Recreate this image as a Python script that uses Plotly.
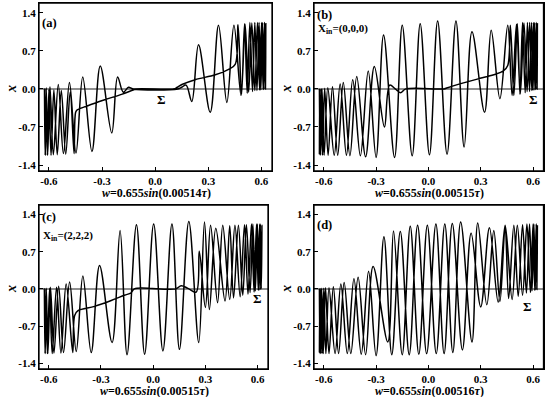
import plotly.graph_objects as go

# ---------------- data (w, x) ----------------
# Panel (a): w = 0.655 sin(0.00514 tau)
a_fwd_w = [-0.625, -0.621, -0.616, -0.609, -0.600, -0.588, -0.572, -0.553, -0.530, -0.505,
           -0.480, -0.458, -0.452, -0.445, -0.380, -0.285, -0.190, -0.124, -0.106, 0.104,
           0.125, 0.151, 0.226, 0.340, 0.415, 0.452, 0.468, 0.488, 0.505, 0.520,
           0.535, 0.550, 0.563, 0.575, 0.587, 0.597, 0.606, 0.613, 0.619, 0.623, 0.625]
a_fwd_x = [0.0, -1.22, 0.0, -1.22, -0.01, -1.22, -0.02, -1.21, -0.03, -1.20,
           -0.06, -1.19, -0.50, -0.40, -0.31, -0.20, -0.10, -0.02, 0.0, 0.0,
           0.03, 0.08, 0.17, 0.26, 0.36, 0.45, 1.18, -0.10, 1.20, -0.08,
           1.22, -0.05, 1.22, -0.03, 1.22, -0.02, 1.22, -0.01, 1.22, 0.0, 1.20]
a_bwd_w = [0.622, 0.617, 0.610, 0.601, 0.590, 0.578, 0.563, 0.546, 0.528, 0.508,
           0.485, 0.445, 0.405, 0.358, 0.311, 0.245, 0.207, 0.175, 0.150, 0.128,
           -0.125, -0.150, -0.180, -0.212, -0.245, -0.310, -0.357, -0.409, -0.447, -0.484,
           -0.518, -0.547, -0.575, -0.594, -0.607, -0.615, -0.620, -0.625]
a_bwd_x = [0.0, 1.22, -0.01, 1.22, -0.02, 1.22, -0.03, 1.21, -0.06, 1.19,
           -0.12, 1.17, -0.25, 1.17, -0.43, 0.81, -0.23, 0.07, 0.03, 0.0,
           0.0, 0.03, -0.06, 0.22, -0.81, 0.42, -1.15, 0.22, -1.18, 0.12,
           -1.19, 0.08, -1.21, 0.04, -1.21, 0.02, -1.22, 0.0]

# Panel (b): w = 0.655 sin(0.00515 tau), X_in = (0,0,0)
b_fwd_w = [-0.625, -0.621, -0.615, -0.607, -0.595, -0.575, -0.550, -0.520, -0.488, -0.450,
           -0.411, -0.360, -0.310, -0.252, -0.222, -0.190, -0.160, -0.130, 0.090, 0.108,
           0.147, 0.280, 0.375, 0.430, 0.455, 0.470, 0.490, 0.510, 0.525, 0.540,
           0.555, 0.568, 0.580, 0.592, 0.600, 0.608, 0.614, 0.619, 0.623, 0.625]
b_fwd_x = [0.0, -1.22, 0.0, -1.22, 0.01, -1.22, 0.04, -1.22, 0.12, -1.23,
           0.23, -1.25, 0.41, -0.70, 0.07, 0.0, -0.07, 0.0, 0.0, 0.02,
           0.06, 0.18, 0.26, 0.33, 0.43, 1.17, -0.12, 1.20, -0.10, 1.22,
           -0.07, 1.22, -0.05, 1.22, -0.03, 1.22, -0.01, 1.22, 0.0, 1.20]
b_bwd_w = [0.622, 0.618, 0.611, 0.603, 0.593, 0.581, 0.566, 0.548, 0.527, 0.505,
           0.480, 0.455, 0.410, 0.360, 0.322, 0.250, 0.205, 0.158, 0.107, 0.053,
           0.006, -0.047, -0.093, -0.150, -0.194, -0.257, -0.300, -0.345, -0.390, -0.434,
           -0.470, -0.506, -0.540, -0.577, -0.598, -0.610, -0.618, -0.623, -0.625]
b_bwd_x = [0.0, 1.22, -0.02, 1.22, -0.03, 1.22, -0.05, 1.21, -0.09, 1.19,
           -0.12, 1.17, -0.18, 1.08, -0.43, 1.05, -1.07, 1.25, -1.20, 1.25,
           -1.21, 1.20, -1.23, 1.17, -1.26, 0.99, -1.26, 0.33, -1.23, 0.17,
           -1.22, 0.09, -1.22, 0.02, -1.22, 0.0, -1.21, 0.0, -1.20]

# Panel (c): w = 0.655 sin(0.00515 tau), X_in = (2,2,2)
c_fwd_w = [-0.625, -0.621, -0.616, -0.608, -0.595, -0.580, -0.555, -0.530, -0.500, -0.462,
           -0.451, -0.432, -0.337, -0.241, -0.165, -0.127, -0.108, 0.130, 0.161, 0.200,
           0.247, 0.265, 0.300, 0.330, 0.370, 0.400, 0.440, 0.470, 0.500, 0.525,
           0.545, 0.565, 0.580, 0.594, 0.604, 0.612, 0.618, 0.625]
c_fwd_x = [0.0, -1.22, 0.0, -1.22, 0.01, -1.22, 0.03, -1.21, 0.09, -1.20,
           -0.50, -0.41, -0.33, -0.22, -0.12, -0.075, 0.0, 0.0, 0.06, 0.01,
           -0.06, 0.71, -0.35, 1.20, -0.26, 1.20, -0.20, 1.20, -0.15, 1.21,
           -0.10, 1.22, -0.06, 1.22, -0.03, 1.22, -0.01, 1.20]
c_bwd_w = [0.621, 0.616, 0.609, 0.599, 0.587, 0.573, 0.557, 0.536, 0.515, 0.490,
           0.462, 0.440, 0.413, 0.360, 0.323, 0.295, 0.262, 0.205, 0.151, 0.108,
           0.056, 0.003, -0.049, -0.096, -0.150, -0.190, -0.236, -0.308, -0.356, -0.404,
           -0.442, -0.480, -0.515, -0.543, -0.570, -0.590, -0.605, -0.614, -0.620, -0.625]
c_bwd_x = [0.0, 1.22, -0.02, 1.22, -0.04, 1.22, -0.07, 1.21, -0.12, 1.20,
           -0.17, 1.19, -0.23, 1.14, -0.39, 1.26, -1.01, 1.27, -1.14, 1.22,
           -1.17, 1.22, -1.23, 1.21, -1.24, 1.10, -1.01, 0.44, -1.20, 0.24,
           -1.18, 0.13, -1.20, 0.05, -1.21, 0.03, -1.22, 0.01, -1.22, 0.0]

# Panel (d): w = 0.655 sin(0.00516 tau)
d_fwd_w = [-0.625, -0.622, -0.617, -0.610, -0.600, -0.588, -0.570, -0.535, -0.502, -0.465,
           -0.427, -0.385, -0.343, -0.300, -0.255, -0.210, -0.161, -0.110, -0.062, -0.010,
           0.043, 0.090, 0.137, 0.195, 0.245, 0.300, 0.350, 0.400, 0.440, 0.480,
           0.510, 0.540, 0.565, 0.585, 0.600, 0.610, 0.618, 0.622, 0.625]
d_fwd_x = [0.0, -1.22, 0.0, -1.22, 0.01, -1.22, 0.02, -1.22, 0.09, -1.22,
           0.19, -1.23, 0.33, -1.26, 0.98, -1.24, 1.08, -1.24, 1.20, -1.22,
           1.22, -1.22, 1.23, -1.15, 1.05, -0.34, 1.15, -0.25, 1.20, -0.20,
           1.20, -0.12, 1.22, -0.07, 1.22, -0.03, 1.22, -0.01, 1.20]
d_bwd_w = [0.622, 0.619, 0.613, 0.605, 0.594, 0.580, 0.562, 0.540, 0.515, 0.490,
           0.460, 0.440, 0.410, 0.375, 0.335, 0.283, 0.250, 0.185, 0.140, 0.094,
           0.045, -0.006, -0.055, -0.104, -0.150, -0.200, -0.233, -0.317, -0.360, -0.403,
           -0.445, -0.483, -0.515, -0.545, -0.570, -0.590, -0.603, -0.612, -0.618, -0.622, -0.625]
d_bwd_x = [0.0, 1.22, -0.02, 1.22, -0.04, 1.22, -0.08, 1.21, -0.14, 1.20,
           -0.18, 1.18, -0.24, 1.10, -0.30, 1.24, -1.00, 1.26, -1.20, 1.22,
           -1.22, 1.20, -1.23, 1.18, -1.24, 1.09, -1.00, 0.42, -1.24, 0.22,
           -1.22, 0.12, -1.22, 0.04, -1.22, 0.02, -1.22, 0.01, -1.22, 0.0, -1.20]

panel_labels = ["(a)", "(b)", "(c)", "(d)"]
x_titles = ["<i>w</i>=0.655<i>sin</i>(0.00514<i>τ</i>)",
            "<i>w</i>=0.655<i>sin</i>(0.00515<i>τ</i>)",
            "<i>w</i>=0.655<i>sin</i>(0.00515<i>τ</i>)",
            "<i>w</i>=0.655<i>sin</i>(0.00516<i>τ</i>)"]
init_labels = [None, "X<sub>in</sub>=(0,0,0)", "X<sub>in</sub>=(2,2,2)", None]
sigma_pos = [(0.038, -0.20), (0.602, -0.20), (0.600, -0.18), (0.568, -0.34)]

x_tickvals = [-0.6, -0.3, 0.0, 0.3, 0.6]
x_ticktext = ["-0.6", "-0.3", "0.0", "0.3", "0.6"]
y_tickvals = [-1.4, -0.7, 0.0, 0.7, 1.4]
y_ticktext = ["-1.4", "-0.7", "0.0", "0.7", "1.4"]

# ---------------- figure ----------------
W, H = 550, 397
FONT = "Liberation Serif"
fig = go.Figure()

series = [(a_fwd_w + a_bwd_w, a_fwd_x + a_bwd_x),
          (b_fwd_w + b_bwd_w, b_fwd_x + b_bwd_x),
          (c_fwd_w + c_bwd_w, c_fwd_x + c_bwd_x),
          (d_fwd_w + d_bwd_w, d_fwd_x + d_bwd_x)]

# panel frames in pixels: (left, right, top, bottom)
frames = [(39, 272, 3, 171), (314, 543.5, 3, 171),
          (39, 268, 205, 369), (314, 543.5, 205, 369)]

tickfont = dict(family=FONT, size=11, color="black", weight="bold")
annotations = []
shapes = []
for i, ((wv, xv), (l, r, t, b)) in enumerate(zip(series, frames)):
    sfx = "" if i == 0 else str(i + 1)
    fig.add_trace(go.Scatter(
        x=wv, y=xv, mode="lines",
        line=dict(color="black", width=1.5, shape="spline", smoothing=1.0),
        xaxis="x" + sfx, yaxis="y" + sfx, showlegend=False, hoverinfo="skip"))
    xd = [l / W, r / W]
    yd = [1 - b / H, 1 - t / H]
    fig.layout["xaxis" + sfx] = dict(
        domain=xd, anchor="y" + sfx, range=[-0.656, 0.66],
        tickmode="array", tickvals=x_tickvals, ticktext=x_ticktext,
        ticks="inside", ticklen=4, tickwidth=1.2, tickcolor="black",
        showline=True, linecolor="black", linewidth=1.3, mirror=True,
        showgrid=False, zeroline=False, tickfont=tickfont)
    fig.layout["yaxis" + sfx] = dict(
        domain=yd, anchor="x" + sfx, range=[-1.51, 1.58],
        tickmode="array", tickvals=y_tickvals, ticktext=y_ticktext,
        ticks="inside", ticklen=4, tickwidth=1.2, tickcolor="black",
        showline=True, linecolor="black", linewidth=1.3, mirror=True,
        showgrid=False, zeroline=True, zerolinecolor="#8f8f8f", zerolinewidth=1.6,
        tickfont=tickfont)
    # frame box (drawn above the data)
    shapes.append(dict(type="rect", xref="x" + sfx + " domain", yref="y" + sfx + " domain",
                       x0=0, x1=1, y0=0, y1=1, line=dict(color="black", width=1.3),
                       layer="above"))

    # axis titles
    annotations.append(dict(
        text="<b>" + x_titles[i] + "</b>", xref="paper", yref="paper",
        x=((l + r) / 2 + 1) / W, y=1 - (b + 22) / H, showarrow=False,
        xanchor="center", yanchor="middle",
        font=dict(family=FONT, size=12, color="black")))
    annotations.append(dict(
        text="<b><i>x</i></b>", xref="paper", yref="paper",
        x=(l - 28) / W, y=1 - ((t + b) / 2 + 2) / H, showarrow=False, textangle=-90,
        xanchor="center", yanchor="middle",
        font=dict(family=FONT, size=14, color="black")))
    # panel label
    label_top = t + (12 if init_labels[i] else 20)
    annotations.append(dict(
        text="<b>" + panel_labels[i] + "</b>", xref="paper", yref="paper",
        x=(l + 1) / W, y=1 - label_top / H, showarrow=False,
        xanchor="left", yanchor="middle",
        font=dict(family=FONT, size=12.5, color="black")))
    if init_labels[i]:
        annotations.append(dict(
            text="<b>" + init_labels[i] + "</b>", xref="paper", yref="paper",
            x=(l + 2) / W, y=1 - (t + 26 + (5 if i == 2 else 0)) / H, showarrow=False,
            xanchor="left", yanchor="middle",
            font=dict(family=FONT, size=11, color="black")))
    # Sigma label
    sx, sy = sigma_pos[i]
    annotations.append(dict(
        text="<b>Σ</b>", xref="x" + sfx, yref="y" + sfx, x=sx, y=sy,
        showarrow=False, xanchor="center", yanchor="middle",
        font=dict(family=FONT, size=13, color="black")))

fig.update_layout(
    width=W, height=H, margin=dict(l=0, r=0, t=0, b=0),
    paper_bgcolor="white", plot_bgcolor="white",
    annotations=annotations, shapes=shapes, showlegend=False)

fig.write_html("out.html", config={"displayModeBar": False},
               post_script="document.body.style.margin='0';document.body.style.padding='0';"
                           "document.body.style.overflow='hidden';")
